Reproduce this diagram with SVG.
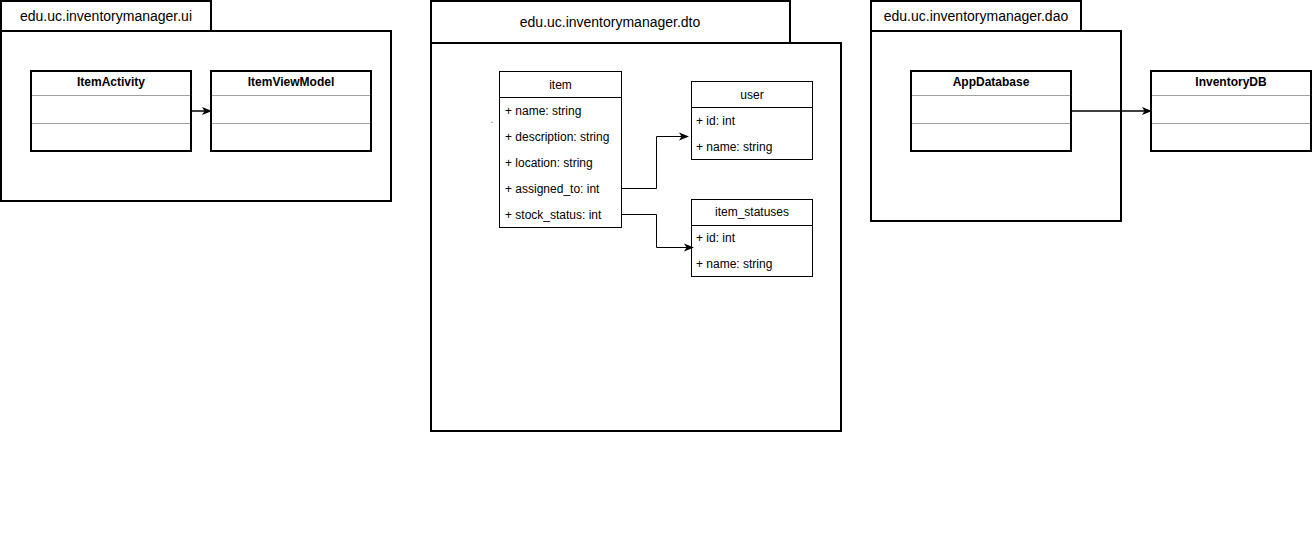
<svg xmlns="http://www.w3.org/2000/svg" width="1312" height="542" viewBox="0 0 1312 542">
  <style>
    .pkg { fill: #ffffff; stroke: #000000; stroke-width: 2; }
    .cls { fill: #ffffff; stroke: #000000; stroke-width: 2; }
    .sep { stroke: #a0a0a0; stroke-width: 1; }
    .tbl { fill: #ffffff; stroke: #000000; stroke-width: 1; }
    .tsep { stroke: #000000; stroke-width: 1; }
    .pkgLabel { font-family: "Liberation Sans", Arial, sans-serif; font-size: 14px; fill: #000000; }
    .clsTitle { font-family: "Liberation Sans", Arial, sans-serif; font-size: 12px; font-weight: bold; fill: #000000; text-anchor: middle; }
    .tblTitle { font-family: "Liberation Sans", Arial, sans-serif; font-size: 12px; fill: #000000; text-anchor: middle; }
    .attr { font-family: "Liberation Sans", Arial, sans-serif; font-size: 12px; fill: #000000; }
    .edge { fill: none; stroke: #000000; stroke-width: 1; }
    .edgeBold { fill: none; stroke: #000000; stroke-width: 1.5; }
  </style>
  <defs>
    <marker id="arrow" viewBox="0 0 10 10" refX="9" refY="5" markerWidth="10" markerHeight="10" markerUnits="userSpaceOnUse" orient="auto">
      <path d="M0,1 L10,5 L0,9 L2.5,5 Z" fill="#000000"/>
    </marker>
  </defs>

  <rect width="1312" height="542" fill="#ffffff"/>

  <!-- package: ui -->
  <g id="pkg-ui">
    <rect class="pkg" x="1" y="31" width="390" height="170"/>
    <rect class="pkg" x="1" y="1" width="210" height="30"/>
    <text class="pkgLabel" x="106" y="21" text-anchor="middle">edu.uc.inventorymanager.ui</text>
  </g>

  <!-- package: dto -->
  <g id="pkg-dto">
    <rect class="pkg" x="431" y="43" width="410" height="388"/>
    <rect class="pkg" x="431" y="1" width="359" height="42"/>
    <text class="pkgLabel" x="610" y="27" text-anchor="middle">edu.uc.inventorymanager.dto</text>
  </g>

  <!-- package: dao -->
  <g id="pkg-dao">
    <rect class="pkg" x="871" y="31" width="250" height="190"/>
    <rect class="pkg" x="871" y="1" width="210" height="30"/>
    <text class="pkgLabel" x="976" y="21" text-anchor="middle">edu.uc.inventorymanager.dao</text>
  </g>

  <!-- class ItemActivity -->
  <g id="ItemActivity">
    <rect class="cls" x="31" y="71" width="160" height="80"/>
    <line class="sep" x1="32" y1="95.5" x2="190" y2="95.5"/>
    <line class="sep" x1="32" y1="123.5" x2="190" y2="123.5"/>
    <text class="clsTitle" x="111" y="86">ItemActivity</text>
  </g>

  <!-- class ItemViewModel -->
  <g id="ItemViewModel">
    <rect class="cls" x="211" y="71" width="160" height="80"/>
    <line class="sep" x1="212" y1="95.5" x2="370" y2="95.5"/>
    <line class="sep" x1="212" y1="123.5" x2="370" y2="123.5"/>
    <text class="clsTitle" x="291" y="86">ItemViewModel</text>
  </g>

  <!-- class AppDatabase -->
  <g id="AppDatabase">
    <rect class="cls" x="911" y="71" width="160" height="80"/>
    <line class="sep" x1="912" y1="95.5" x2="1070" y2="95.5"/>
    <line class="sep" x1="912" y1="123.5" x2="1070" y2="123.5"/>
    <text class="clsTitle" x="991" y="86">AppDatabase</text>
  </g>

  <!-- class InventoryDB -->
  <g id="InventoryDB">
    <rect class="cls" x="1151" y="71" width="160" height="80"/>
    <line class="sep" x1="1152" y1="95.5" x2="1310" y2="95.5"/>
    <line class="sep" x1="1152" y1="123.5" x2="1310" y2="123.5"/>
    <text class="clsTitle" x="1231" y="86">InventoryDB</text>
  </g>

  <!-- table item -->
  <g id="item">
    <rect class="tbl" x="499.5" y="71.5" width="122" height="156"/>
    <line class="tsep" x1="499.5" y1="97.5" x2="621.5" y2="97.5"/>
    <text class="tblTitle" x="560.5" y="89">item</text>
    <text class="attr" x="505" y="115">+ name: string</text>
    <text class="attr" x="505" y="141">+ description: string</text>
    <text class="attr" x="505" y="167">+ location: string</text>
    <text class="attr" x="505" y="193">+ assigned_to: int</text>
    <text class="attr" x="505" y="219">+ stock_status: int</text>
  </g>

  <!-- table user -->
  <g id="user">
    <rect class="tbl" x="691.5" y="81.5" width="121" height="78"/>
    <line class="tsep" x1="691.5" y1="107.5" x2="812.5" y2="107.5"/>
    <text class="tblTitle" x="752" y="99">user</text>
    <text class="attr" x="696" y="125">+ id: int</text>
    <text class="attr" x="696" y="151">+ name: string</text>
  </g>

  <!-- table item_statuses -->
  <g id="item_statuses">
    <rect class="tbl" x="691.5" y="199.5" width="121" height="77"/>
    <line class="tsep" x1="691.5" y1="225.5" x2="812.5" y2="225.5"/>
    <text class="tblTitle" x="752" y="216">item_statuses</text>
    <text class="attr" x="696" y="242">+ id: int</text>
    <text class="attr" x="696" y="268">+ name: string</text>
  </g>

  <!-- small stray mark -->
  <line x1="491.5" y1="122.5" x2="493" y2="122" stroke="#888888" stroke-width="1"/>

  <!-- connectors -->
  <g id="connectors">
    <path class="edgeBold" d="M191,111 L211,111" marker-end="url(#arrow)"/>
    <path class="edgeBold" d="M1071,111 L1151,111" marker-end="url(#arrow)"/>
    <path class="edge" d="M621.5,188.5 L656.5,188.5 L656.5,136.5 L688,136.5" marker-end="url(#arrow)"/>
    <path class="edge" d="M621.5,214.5 L656.5,214.5 L656.5,247.5 L693,247.5" marker-end="url(#arrow)"/>
  </g>
</svg>
